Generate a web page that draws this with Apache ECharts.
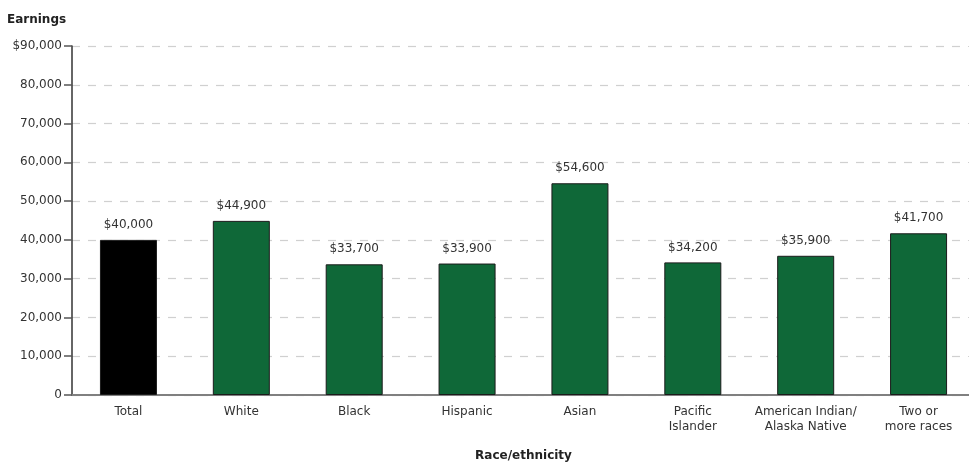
<!DOCTYPE html>
<html>
<head>
<meta charset="utf-8">
<script src="https://cdn.jsdelivr.net/npm/echarts@6/dist/echarts.min.js"></script>
<style>
html, body { margin: 0; padding: 0; background: #fff; }
#chart { width: 969px; height: 464px; }
</style>
</head>
<body>
<div id="chart"></div>
<script>
// 数据
var categories = ['Total', 'White', 'Black', 'Hispanic', 'Asian', 'Pacific\nIslander', 'American Indian/\nAlaska Native', 'Two or\nmore races'];
var earnings = [40000, 44900, 33700, 33900, 54600, 34200, 35900, 41700];
var barColors = ['#000000', '#0f6838', '#0f6838', '#0f6838', '#0f6838', '#0f6838', '#0f6838', '#0f6838'];

function money(v) {
	return '$' + v.toLocaleString('en-US');
}

var myChart = echarts.init(document.getElementById('chart'));
var font = '"DejaVu Sans", sans-serif';
var option = {
	animation: false,
	textStyle: { fontFamily: font },
	grid: { left: 72, top: 46, width: 903, height: 349, outerBoundsMode: 'none', containLabel: false },
	xAxis: {
		type: 'category',
		data: categories,
		axisLine: { lineStyle: { color: '#808080', width: 2 } },
		axisTick: { show: false },
		axisLabel: { color: '#333', fontSize: 12, lineHeight: 15, margin: 9, interval: 0 },
		name: 'Race/ethnicity',
		nameLocation: 'middle',
		nameGap: 55,
		nameTextStyle: { color: '#222', fontSize: 12, fontWeight: 'bold' }
	},
	yAxis: {
		type: 'value',
		min: 0,
		max: 90000,
		interval: 10000,
		name: 'Earnings',
		nameLocation: 'end',
		nameGap: 20,
		nameTextStyle: { color: '#222', fontSize: 12, fontWeight: 'bold', align: 'left', padding: [0, 0, 0, -65] },
		axisLine: { show: true, lineStyle: { color: '#333', width: 1.5 } },
		axisTick: { show: true, length: 8, lineStyle: { color: '#555', width: 1.5 } },
		axisLabel: {
			color: '#333', fontSize: 12, margin: 10,
			formatter: function(v) { return v === 90000 ? money(v) : v.toLocaleString('en-US'); }
		},
		splitLine: { lineStyle: { color: '#d0d0d0', type: [8, 8], width: 1.2 } }
	},
	series: [{
		type: 'bar',
		barWidth: 57,
		data: earnings.map(function(v, i) {
			return { value: v, itemStyle: { color: barColors[i], borderColor: '#1b1b1b', borderWidth: 1 } };
		}),
		label: {
			show: true, position: 'top', distance: 9,
			color: '#333', fontSize: 12,
			formatter: function(p) { return money(p.value); }
		}
	}]
};
myChart.setOption(option);
window.onresize = myChart.resize;
</script>
</body>
</html>
